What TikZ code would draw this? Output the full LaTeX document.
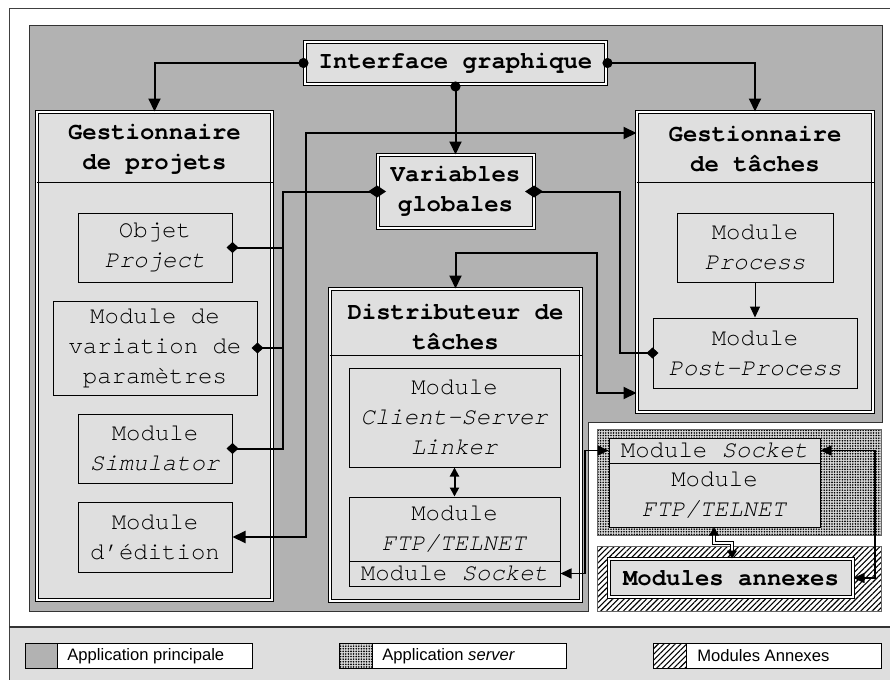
\documentclass[tikz,border=0pt]{standalone}
\usepackage{fontspec}
\newfontfamily\monof{TeX Gyre Cursor}
\newfontfamily\sansf{Liberation Sans}
\usetikzlibrary{arrows.meta,patterns,patterns.meta,calc}
\definecolor{maingray}{gray}{0.70}
\definecolor{boxfill}{gray}{0.875}
\definecolor{legbg}{gray}{0.87}
\begin{document}
\begin{tikzpicture}[x=0.5pt,y=-0.5pt,
  txt/.style={font=\monof\fontsize{12}{15}\selectfont, align=center, inner sep=0pt},
  btxt/.style={font=\monof\bfseries\fontsize{12}{15}\selectfont, align=center, inner sep=0pt},
  box/.style={draw, line width=0.5pt, fill=boxfill, inner sep=0pt, txt},
  dbox/.style={draw, line width=0.5pt, double=white, double distance=1pt, fill=boxfill, inner sep=0pt},
  conn/.style={line width=1pt},
  thinconn/.style={line width=0.8pt},
  zig/.style={line width=0.4pt, double=white, double distance=0.9pt},
  legbox/.style={draw, line width=0.5pt, fill=white, inner sep=0pt},
  legtxt/.style={font=\sansf\fontsize{8.3}{10}\selectfont, inner sep=0pt, anchor=west},
  BigTri/.tip={Triangle[length=6.5pt,width=6pt]},
  MedTri/.tip={Triangle[length=5.5pt,width=5pt]},
  SmTri/.tip={Triangle[length=4.5pt,width=4.5pt]},
  BigDia/.tip={Diamond[length=9pt,width=6pt]},
  SmDia/.tip={Diamond[length=6pt,width=5.5pt]},
  Dot/.tip={Circle[length=5pt]},
  dotpat/.style={pattern={Dots[distance=1.3pt,radius=0.45pt]}},
  hatchpat/.style={pattern={Lines[angle=45,distance=2pt,line width=0.55pt]}}
]
\useasboundingbox (0,0) rectangle (890,680);
% outer frame and legend band
\fill[legbg] (9,627) rectangle (890,680);
\draw[line width=0.5pt, black!75] (9,680) -- (9,8) -- (890,8);
\draw[line width=0.6pt, black!80] (9,627) -- (890,627);
% main application area
\filldraw[fill=maingray, draw=black!80, line width=0.5pt]
  (29,25) -- (882,25) -- (882,422) -- (588,422) -- (588,611) -- (29,611) -- cycle;
% server area
\fill[gray!30] (597,429) rectangle (881,535);
\fill[dotpat] (597,429) rectangle (881,535);
\draw[line width=0.4pt, black!60] (597,429) rectangle (881,535);
% annexes area
\fill[white] (597,546) rectangle (881,611);
\fill[hatchpat] (597,546) rectangle (881,611);
\draw[line width=0.4pt, black!60] (597,546) rectangle (881,611);

% main boxes
\node[dbox, btxt, minimum width=150.5pt, minimum height=21pt] (gi) at (455.5,63) {Interface graphique};
\node[dbox, btxt, minimum width=78pt, minimum height=36.5pt] (vg) at (455.5,191.5) {Variables\\globales};
\node[dbox, minimum width=117.5pt, minimum height=244pt] (gp) at (154.5,356) {};
\node[dbox, minimum width=118pt, minimum height=150pt] (gt) at (755,262) {};
\node[dbox, minimum width=125.5pt, minimum height=156pt] (dt) at (455.5,445) {};
\draw[line width=0.5pt] (gp.west |- 0,182) -- (gp.east |- 0,182);
\draw[line width=0.5pt] (gt.west |- 0,182) -- (gt.east |- 0,182);
\draw[line width=0.5pt] (dt.west |- 0,355) -- (dt.east |- 0,355);
\node[btxt] (gph) at (154.5,149) {Gestionnaire\\de projets};
\node[btxt] (gth) at (755,149) {Gestionnaire\\de tâches};
\node[btxt] (dth) at (455.5,327) {Distributeur de\\tâches};

% inner boxes
\node[box, minimum width=77pt, minimum height=34.5pt] (op) at (155,247.5) {Objet\\\textit{Project}};
\node[box, minimum width=102pt, minimum height=47pt] (mv) at (155,348) {Module de\\variation de\\paramètres};
\node[box, minimum width=77pt, minimum height=34.5pt] (ms) at (155,448.5) {Module\\\textit{Simulator}};
\node[box, minimum width=77pt, minimum height=35pt] (me) at (155,537) {Module\\d’édition};
\node[box, minimum width=78pt, minimum height=34.5pt] (mp) at (755,247.5) {Module\\\textit{Process}};
\node[box, minimum width=102pt, minimum height=35pt] (mpp) at (755,353) {Module\\\textit{Post-Process}};
\node[box, minimum width=105.5pt, minimum height=49.5pt] (cs) at (454.5,417.5) {Module\\\textit{Client-Server}\\\textit{Linker}};
\node[box, minimum width=105.5pt, minimum height=32pt] (ftp) at (454.5,529) {Module\\\textit{FTP/TELNET}};
\node[box, minimum width=105.5pt, minimum height=12.5pt] (sock) at (454.5,573.5) {Module \textit{Socket}};
\node[box, minimum width=105.5pt, minimum height=12.5pt] (ssock) at (714.5,450.5) {Module \textit{Socket}};
\node[box, minimum width=105.5pt, minimum height=32pt] (sftp) at (714.5,495) {Module\\\textit{FTP/TELNET}};
\node[dbox, btxt, minimum width=122pt, minimum height=19pt] (ma) at (731,578) {Modules annexes};

% connectors
\draw[conn, {Dot}-{BigTri}, shorten <=-2pt] (gi.west) -| (gp.north);
\draw[conn, {Dot}-{BigTri}, shorten <=-2pt] (gi.east) -| (gt.north);
\draw[conn, {Dot}-{BigTri}, shorten <=-1.5pt] (gi.south) -- (vg.north);

\coordinate (b1) at (283,191.5);
\draw[conn, {BigDia}-{SmDia}, shorten <=-4.5pt, shorten >=-3pt] (vg.west) -- (b1) |- (ms.east);
\draw[conn, -{SmDia}, shorten >=-3pt] (b1 |- op.east) -- (op.east);
\draw[conn, -{SmDia}, shorten >=-3pt] (b1 |- mv.east) -- (mv.east);

\coordinate (e1) at (306,133);
\draw[conn, {BigTri}-{BigTri}] (me.east) -| (e1) -- (e1 -| gt.west);

\coordinate (c2) at (620,191.5);
\draw[conn, {BigDia}-{SmDia}, shorten <=-4.5pt, shorten >=-3pt] (vg.east) -- (c2) |- (mpp.west);

\coordinate (c3) at (597,253);
\coordinate (c3b) at (597,393);
\draw[conn, {BigTri}-{BigTri}] (dt.north) |- (c3) -- (c3b) -- (c3b -| gt.west);

\draw[conn, {SmTri}-{SmTri}] (cs.south) -- (ftp.north);
\draw[line width=0.5pt, -{Triangle[length=5.5pt,width=5pt]}] (mp.south) -- (mpp.north);

\coordinate (c4) at (585,573.5);
\draw[thinconn, {MedTri}-{MedTri}] (sock.east) -- (c4) |- (ssock.west);
\coordinate (c5) at (875,450.5);
\draw[thinconn, {MedTri}-{MedTri}] (ssock.east) -- (c5) |- (ma.east);

\coordinate (z1) at (714,543);
\coordinate (z2) at (732,543);
\draw[zig, {Triangle[length=4pt,width=5pt]}-{Triangle[length=4pt,width=5pt]}] (sftp.south -| z1) -- (z1) -- (z2) -- (z2 |- ma.north);

% legend
\node[legbox, minimum width=113.5pt, minimum height=12.5pt] (leg1) at (138.5,655.5) {};
\node[draw, line width=0.5pt, fill=maingray, inner sep=0pt, minimum width=16pt, minimum height=12.5pt] (sw1) at (41,655.5) {};
\node[legtxt] (lt1) at (67,656) {Application principale};

\node[legbox, minimum width=113.5pt, minimum height=12.5pt] (leg2) at (452.5,655.5) {};
\node[draw, line width=0.5pt, fill=gray!30, postaction={dotpat}, inner sep=0pt, minimum width=16.5pt, minimum height=12.5pt] (sw2) at (355.5,655.5) {};
\node[legtxt] (lt2) at (382,656) {Application \textit{server}};

\node[legbox, minimum width=114pt, minimum height=12.5pt] (leg3) at (767,655.5) {};
\node[draw, line width=0.5pt, fill=white, postaction={hatchpat}, inner sep=0pt, minimum width=16.5pt, minimum height=12.5pt] (sw3) at (669.5,655.5) {};
\node[legtxt] (lt3) at (697,656) {Modules Annexes};
\end{tikzpicture}
\end{document}
